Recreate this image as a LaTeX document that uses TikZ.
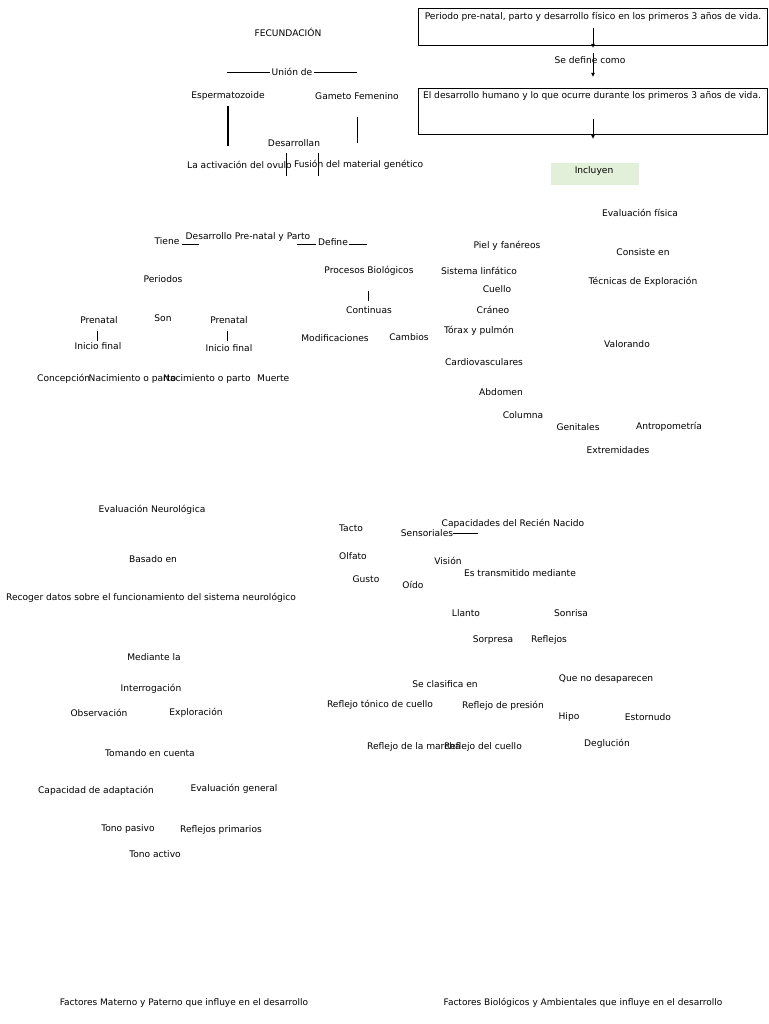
\documentclass[tikz,border=0pt]{standalone}
\usepackage{fontspec}
\setmainfont{DejaVu Sans}
\usetikzlibrary{arrows.meta}
\begin{document}
\begin{tikzpicture}[x=1pt,y=-1pt,
  t/.style={inner sep=0pt, font=\fontsize{9.1}{11}\selectfont},
  tb/.style={inner sep=0pt, font=\fontsize{9.0}{11}\selectfont},
  ln/.style={draw=black, line width=0.8pt},
  lnk/.style={draw=black, line width=1.6pt},
  arr/.style={draw=black, line width=0.8pt, -{Latex[length=4pt,width=4pt]}},
  bx/.style={draw=black, line width=0.9pt}]
\useasboundingbox[fill=white] (0,0) rectangle (768,1024);

% top left
\node[t] (fec) at (288,32) {FECUNDACIÓN};
\node[t] (union) at (292,72) {Unión de};
\coordinate (u1) at (227,72); \coordinate (u2) at (357,72);
\draw[ln] (u1) -- ([xshift=-2pt]union.west);
\draw[ln] ([xshift=2pt]union.east) -- (u2);
\node[t] (esp) at (228,96) {Espermatozoide};
\node[t] (gam) at (357,96) {Gameto Femenino};
\coordinate (e1) at (228,106); \coordinate (e2) at (228,146);
\draw[lnk] (e1) -- (e2);
\coordinate (g1) at (357,117); \coordinate (g2) at (357,143);
\draw[ln] (g1) -- (g2);
\node[t] (des) at (294,143) {Desarrollan};
\node[t,anchor=west] (act) at (187,165) {La activación del ovulo};
\node[t,anchor=west] (fus) at (294,165) {Fusión del material genético};
\coordinate (a1) at (286,153); \coordinate (a2) at (286,176);
\coordinate (f1) at (318,153); \coordinate (f2) at (318,176);
\draw[ln] (a1) -- (a2);
\draw[ln] (f1) -- (f2);

% top right boxes
\node[bx, minimum width=349, minimum height=37, anchor=north west, inner sep=0pt] (box1) at (418,8) {};
\node[t] (p1) at (593,16.5) {Periodo pre-natal, parto y desarrollo físico en los primeros 3 años de vida.};
\coordinate (b1s) at (593,28);
\coordinate (b1e) at (593,48);
\draw[arr] (b1s) -- (b1e);
\node[t] (sedef) at (590,60) {Se define como};
\coordinate (sd1) at (593,53);
\coordinate (sd2) at (593,77);
\draw[arr] (sd1) -- (sd2);
\node[bx, minimum width=349, minimum height=46, anchor=north west, inner sep=0pt] (box2) at (418,88) {};
\node[t] (p2) at (592,96) {El desarrollo humano y lo que ocurre durante los primeros 3 años de vida.};
\coordinate (b2s) at (593,119);
\coordinate (b2e) at (593,139);
\draw[arr] (b2s) -- (b2e);
\node[fill={rgb,255:red,226;green,239;blue,217}, minimum width=88, minimum height=22, inner sep=0pt, anchor=north west] (incb) at (551,163) {};
\node[t] (inc) at (594,171) {Incluyen};

% middle left
\node[t] (tiene) at (167,241) {Tiene};
\coordinate (ti1) at (182,244); \coordinate (ti2) at (199,244);
\draw[ln] (ti1) -- (ti2);
\node[t] (dpp) at (248,237) {Desarrollo Pre-natal y Parto};
\coordinate (dp1) at (297,244); \coordinate (dp2) at (316,244);
\draw[ln] (dp1) -- (dp2);
\node[t] (define) at (333,242) {Define};
\coordinate (df1) at (349,244); \coordinate (df2) at (367,244);
\draw[ln] (df1) -- (df2);
\node[t] (per) at (163,279) {Periodos};
\node[t] (proc) at (369,271) {Procesos Biológicos};
\coordinate (pc1) at (368,291); \coordinate (pc2) at (368,301);
\draw[ln] (pc1) -- (pc2);
\node[t] (cont) at (369,310) {Continuas};
\node[t] (pre1) at (99,320) {Prenatal};
\coordinate (pr1a) at (97,331); \coordinate (pr1b) at (97,341);
\draw[ln] (pr1a) -- (pr1b);
\node[t] (ini1) at (98,346) {Inicio final};
\node[t] (son) at (163,318) {Son};
\node[t] (pre2) at (229,320) {Prenatal};
\coordinate (pr2a) at (227,331); \coordinate (pr2b) at (227,341);
\draw[ln] (pr2a) -- (pr2b);
\node[t] (ini2) at (229,348) {Inicio final};
\node[t] (modif) at (335,338) {Modificaciones};
\node[t] (camb) at (409,337) {Cambios};
\node[t,anchor=west] (conc) at (37,379) {Concepción};
\node[t,anchor=west] (nac1) at (88.5,379) {Nacimiento o parto};
\node[t,anchor=west] (nac2) at (163,379) {Nacimiento o parto};
\node[t,anchor=west] (muer) at (257,378) {Muerte};

% middle right
\node[t] (evf) at (640,213) {Evaluación física};
\node[t] (piel) at (507,246) {Piel y fanéreos};
\node[t] (cons) at (643,252) {Consiste en};
\node[t] (sisl) at (479,271) {Sistema linfático};
\node[t] (cue) at (497,289) {Cuello};
\node[t] (tec) at (643,282) {Técnicas de Exploración};
\node[t] (cra) at (493,310) {Cráneo};
\node[t] (tor) at (479,331) {Tórax y pulmón};
\node[t] (val) at (627,344) {Valorando};
\node[t] (card) at (484,362) {Cardiovasculares};
\node[t] (abd) at (501,392) {Abdomen};
\node[t] (col) at (523,415) {Columna};
\node[t] (gen) at (578,427) {Genitales};
\node[t] (antro) at (669,427) {Antropometría};
\node[t] (ext) at (618,450) {Extremidades};

% lower left
\node[t] (evn) at (152,510) {Evaluación Neurológica};
\node[t] (bas) at (153,559) {Basado en};
\node[t] (rec) at (151,598) {Recoger datos sobre el funcionamiento del sistema neurológico};
\node[t] (med) at (154,657) {Mediante la};
\node[t] (int) at (151,689) {Interrogación};
\node[t] (obs) at (99,713) {Observación};
\node[t] (expl) at (196,713) {Exploración};
\node[t] (tom) at (150,753) {Tomando en cuenta};
\node[t] (cap) at (96,791) {Capacidad de adaptación};
\node[t] (evg) at (234,789) {Evaluación general};
\node[t] (tp) at (128,829) {Tono pasivo};
\node[t] (rp) at (221,830) {Reflejos primarios};
\node[t] (ta) at (155,854) {Tono activo};

% lower right
\node[t] (tac) at (351,528) {Tacto};
\node[t] (sens) at (427,533) {Sensoriales};
\coordinate (sn2) at (478,533);
\draw[ln] (sens.east) -- (sn2);
\node[t] (caprn) at (513,524) {Capacidades del Recién Nacido};
\node[t] (olf) at (353,556) {Olfato};
\node[t] (vis) at (448,561) {Visión};
\node[t] (est) at (520,573) {Es transmitido mediante};
\node[t] (gus) at (366,579) {Gusto};
\node[t] (oid) at (413,585) {Oído};
\node[t] (llan) at (466,613) {Llanto};
\node[t] (son2) at (571,613) {Sonrisa};
\node[t] (sorp) at (493,640) {Sorpresa};
\node[t] (refl) at (549,640) {Reflejos};
\node[t] (secl) at (445,684) {Se clasifica en};
\node[t] (qnd) at (606,679) {Que no desaparecen};
\node[t] (rtc) at (380,705) {Reflejo tónico de cuello};
\node[t] (rpr) at (503,706) {Reflejo de presión};
\node[t] (hipo) at (569,717) {Hipo};
\node[t] (esto) at (648,717) {Estornudo};
\node[t] (deg) at (607,744) {Deglución};
\node[t,anchor=west] (rmar) at (367,747) {Reflejo de la marcha};
\node[t,anchor=west] (rcue) at (444,747) {Reflejo del cuello};

% bottom
\node[tb] (fmp) at (184,1003) {Factores Materno y Paterno que influye en el desarrollo};
\node[tb] (fba) at (583,1003) {Factores Biológicos y Ambientales que influye en el desarrollo};
\end{tikzpicture}
\end{document}
